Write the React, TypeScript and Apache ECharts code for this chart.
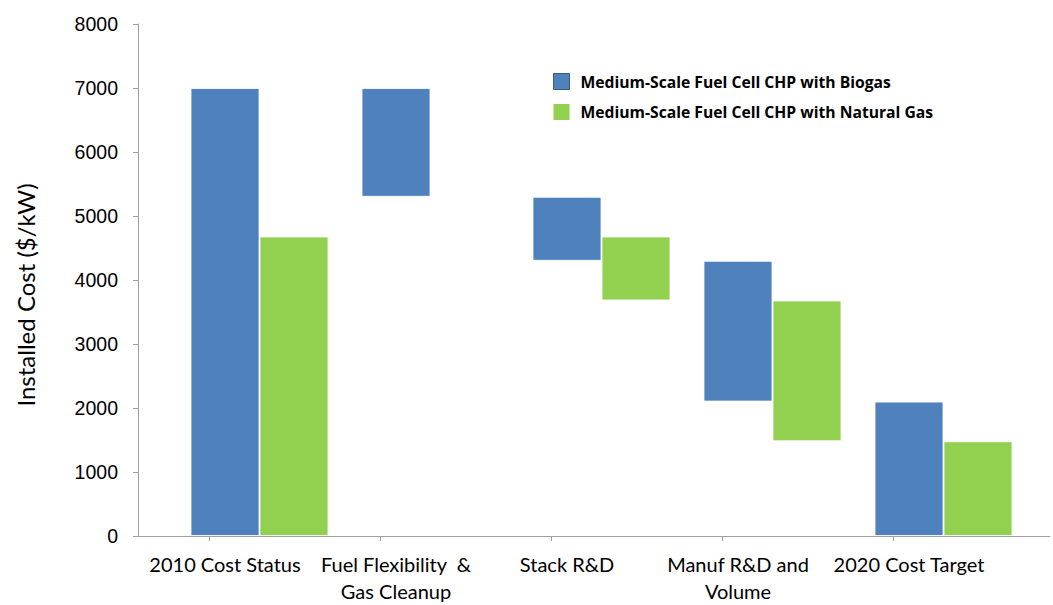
import React, { useEffect, useRef } from "react";
import * as echarts from "echarts";

const categories = [
  "2010 Cost Status",
  "Fuel Flexibility  &\nGas Cleanup",
  "Stack R&D",
  "Manuf R&D and\nVolume",
  "2020 Cost Target",
];
const biogasLow = [0, 5300, 4300, 2100, 0];
const biogasHigh = [7000, 7000, 5300, 4300, 2100];
const natGasLow: (number | null)[] = [0, null, 3680, 1480, 0];
const natGasHigh: (number | null)[] = [4680, null, 4680, 3680, 1480];
const yTicks = { min: 0, max: 8000, interval: 1000 };

const BIOGAS = "Medium-Scale Fuel Cell CHP with Biogas";
const NATGAS = "Medium-Scale Fuel Cell CHP with Natural Gas";

export default function App() {
  const ref = useRef<HTMLDivElement>(null);
  useEffect(() => {
    if (!ref.current) return;
    const chart = echarts.init(ref.current, undefined, { renderer: "svg" });
    const axisGray = "#a0a0a0";
    const visBorder = { borderColor: "rgba(255,255,255,0.8)", borderWidth: 1 };
    const diff = (hi: (number | null)[], lo: (number | null)[]) =>
      hi.map((h, i) => (h == null || lo[i] == null ? "-" : (h as number) - (lo[i] as number)));
    const barCommon = {
      type: "bar",
      xAxisIndex: 0,
      yAxisIndex: 0,
      barGap: "0%",
      clip: false,
    };
    chart.setOption({
      animation: false,
      backgroundColor: "#ffffff",
      grid: [
        { left: 124, width: 855, top: 24, bottom: 69, outerBoundsMode: "none", containLabel: false },
        { left: 138, right: 3, top: 24, bottom: 69, outerBoundsMode: "none", containLabel: false },
      ],
      legend: {
        orient: "vertical",
        left: 548,
        top: 68,
        itemWidth: 16,
        itemHeight: 16,
        itemGap: 14,
        icon: "rect",
        textStyle: {
          fontFamily: "Open Sans",
          fontWeight: "bold",
          fontSize: 15.7,
          color: "#000",
          padding: [0, 0, 0, 6],
        },
        data: [
          { name: BIOGAS, itemStyle: { borderColor: "#385D8A", borderWidth: 1 } },
          { name: NATGAS, itemStyle: { borderWidth: 0 } },
        ],
      },
      xAxis: [
        {
          type: "category",
          gridIndex: 0,
          data: categories,
          axisLine: { show: false },
          axisTick: { show: true, alignWithLabel: true, length: 5, lineStyle: { color: axisGray } },
          axisLabel: {
            interval: 0,
            fontFamily: "Lato",
            fontSize: 20,
            color: "#000",
            lineHeight: 27,
            margin: 14,
            padding: [0, 0, 0, 31],
          },
          splitLine: { show: false },
        },
        {
          type: "value",
          gridIndex: 1,
          min: 0,
          max: 1,
          axisLine: { show: true, onZero: false, lineStyle: { color: axisGray } },
          axisTick: { show: false },
          axisLabel: { show: false },
          splitLine: { show: false },
        },
      ],
      yAxis: [
        { type: "value", gridIndex: 0, show: false, ...yTicks, splitLine: { show: false } },
        {
          type: "value",
          gridIndex: 1,
          ...yTicks,
          name: "Installed Cost ($/kW)",
          nameLocation: "middle",
          nameGap: 101,
          nameTextStyle: {
            fontFamily: "Lato",
            fontSize: 24,
            color: "#000",
            padding: [0, 30, 0, 0],
          },
          axisLine: { show: true, lineStyle: { color: axisGray } },
          axisTick: { show: true, length: 5, lineStyle: { color: axisGray } },
          axisLabel: {
            fontFamily: "Liberation Sans",
            fontSize: 19.5,
            color: "#000",
            margin: 20,
            formatter: (v: number) => String(v),
          },
          splitLine: { show: false },
        },
      ],
      series: [
        {
          ...barCommon,
          name: "spacer",
          stack: "sp",
          barWidth: 100,
          silent: true,
          data: categories.map(() => "-"),
        },
        {
          ...barCommon,
          name: "biogasBase",
          stack: "b",
          barWidth: 69,
          silent: true,
          itemStyle: { color: "transparent" },
          data: biogasLow,
        },
        {
          ...barCommon,
          name: BIOGAS,
          stack: "b",
          barWidth: 69,
          itemStyle: { color: "#4F81BD", ...visBorder },
          data: diff(biogasHigh, biogasLow),
        },
        {
          ...barCommon,
          name: "natBase",
          stack: "g",
          barWidth: 69,
          silent: true,
          itemStyle: { color: "transparent" },
          data: natGasLow.map((v) => (v == null ? "-" : v)),
        },
        {
          ...barCommon,
          name: NATGAS,
          stack: "g",
          barWidth: 69,
          itemStyle: { color: "#92D050", ...visBorder },
          data: diff(natGasHigh, natGasLow),
        },
      ],
    });
    return () => chart.dispose();
  }, []);
  return (
    <div
      ref={ref}
      style={{ position: "absolute", left: 0, top: 0, width: 1053, height: 605, background: "#fff" }}
    />
  );
}
